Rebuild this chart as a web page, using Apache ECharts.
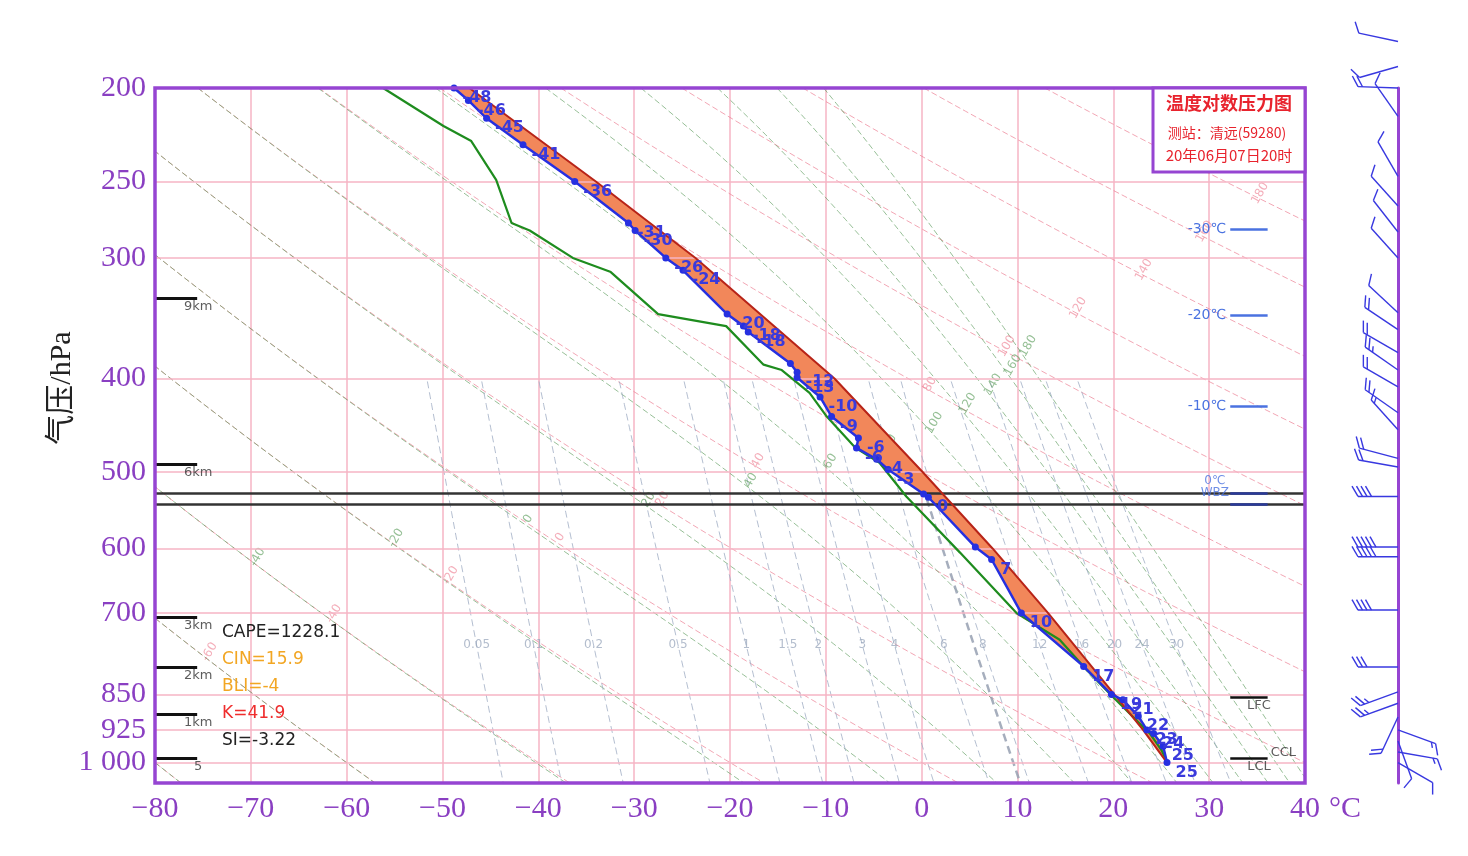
<!DOCTYPE html>
<html>
<head>
<meta charset="utf-8">
<title>温度对数压力图</title>
<script src="https://cdn.jsdelivr.net/npm/echarts@6/dist/echarts.min.js"></script>
<style>
html, body { margin: 0; padding: 0; background: #fff; }
#main { width: 1468px; height: 856px; }
</style>
</head>
<body>
<div id="main"></div>
<script>
// environment temperature (blue), hPa / degC, with the labels printed beside the dots
const tempP = [200, 206, 215, 229, 250, 276, 281, 300, 309, 343, 353, 358, 386, 394, 399, 418, 438, 461, 472, 485, 497, 527, 531, 598, 616, 700, 795, 850, 861, 895, 925, 933, 962, 1000];
const tempT = [-48.8, -47.3, -45.4, -41.6, -36.2, -30.6, -29.9, -26.7, -24.9, -20.3, -18.6, -18.1, -13.7, -13.0, -13.0, -10.6, -9.4, -6.6, -6.8, -4.7, -3.5, 0.2, 0.7, 5.6, 7.3, 10.4, 16.9, 19.8, 21.0, 22.6, 23.5, 24.2, 25.2, 25.6];
const tempLabels = ['-48', '-46', '-45', '-41', '-36', '-31', '-30', '-26', '-24', '-20', '-18', '-18', '', '-12', '-13', '-10', '-9', '-6', '-6', '-4', '-3', '', '0', '', '7', '10', '17', '19', '21', '22', '23', '24', '25', '25'];

// dew point (green)
const dewP = [200, 219, 227, 249, 276, 281, 300, 310, 343, 353, 387, 392, 414, 438, 472, 489, 530, 606, 700, 746, 795, 850, 933, 970, 988];
const dewT = [-56.2, -49.9, -47.0, -44.4, -42.8, -40.9, -36.4, -32.5, -27.5, -20.4, -16.5, -14.6, -11.7, -9.9, -6.9, -4.4, -1.6, 4.0, 9.9, 14.4, 16.9, 19.7, 23.8, 25.0, 25.4];

// lifted parcel (red)
const parcelP = [200, 250, 300, 400, 500, 600, 700, 850, 925, 1000];
const parcelT = [-47.2, -34.0, -23.6, -9.1, 0.1, 7.4, 13.2, 20.1, 23.1, 25.6];

// axes
const pressureTicks = [200, 250, 300, 400, 500, 600, 700, 850, 925, 1000];

// background isopleths: dry adiabats (theta, degC), pseudo-adiabats (theta-se, degC), mixing ratio (g/kg)
const dryTheta = [-80, -60, -40, -20, 0, 20, 40, 60, 80, 100, 120, 140, 160, 180, 200, 220];
const moistTheta = [-80, -60, -40, -20, 0, 20, 40, 60, 80, 100, 120, 140, 160, 180];
const mixRatios = [0.05, 0.1, 0.2, 0.5, 1, 1.5, 2, 3, 4, 6, 8, 12, 16, 20, 24, 30];
const boldRatio = 7.5;

// height marks on the left frame
const heightNames = ['9km', '6km', '3km', '2km', '1km', '5'];
const heightP = [330, 491, 707, 796, 891, 990];

// temperature levels marked at the right
const isoNames = ['-30℃', '-20℃', '-10℃'];
const isoP = [280, 344, 427];
const freezingP = 526;
const wbzP = 540;

// parcel levels
const levelNames = ['LFC', 'LCL'];
const levelP = [856, 990];
const cclP = 985;

// indices
const indexTexts = ['CAPE=1228.1', 'CIN=15.9', 'BLI=-4', 'K=41.9', 'SI=-3.22'];
const indexColors = ['#222', '#f2a623', '#f2a623', '#ef2d2d', '#222'];

// wind: pressure, direction (deg, from), speed (m/s)
const windP = [179, 190, 200, 214, 247, 265, 282, 300, 342, 356, 376, 392, 408, 434, 452, 484, 494, 530, 598, 612, 695, 796, 845, 868, 897, 925, 950, 975, 1000];
const windDir = [282, 254, 272, 325, 330, 318, 322, 318, 313, 304, 300, 305, 300, 305, 318, 285, 280, 270, 270, 270, 270, 270, 250, 250, 205, 110, 160, 100, 120];
const windSpd = [4, 4, 8, 4, 4, 4, 4, 4, 4, 8, 8, 10, 8, 8, 6, 8, 8, 16, 20, 20, 16, 12, 10, 10, 8, 6, 4, 6, 4];

const purple = '#8a3fc2';
const frame = '#9645d2';
const pink = '#f6b4c4';
const serif = '"Liberation Serif", "Noto Sans CJK SC", serif';

// thermodynamics for the isopleths
const K0 = 273.15;
function esat(t) { return 6.112 * Math.exp(17.67 * t / (t + 243.5)); }
function dryT(theta, p) { return (theta + K0) * Math.pow(p / 1000, 0.286) - K0; }
function thetaSE(t, p) {
  const T = t + K0;
  const e = esat(t);
  const r = 0.622 * e / (p - e);
  return T * Math.pow(1000 / p, 0.286) * Math.exp(2.5e6 * r / (1004 * T)) - K0;
}
function moistT(th, p) {
  let lo = -120, hi = 45;
  for (let i = 0; i < 50; i++) {
    const mid = (lo + hi) / 2;
    if (thetaSE(mid, p) > th) hi = mid; else lo = mid;
  }
  return (lo + hi) / 2;
}
function mixT(r, p) {
  const w = r / 1000;
  const e = w * p / (0.622 + w);
  const l = Math.log(e / 6.112);
  if (l < 0) return 272.62 * l / (22.46 - l);
  return 243.5 * l / (17.67 - l);
}

const sampleP = [];
for (let i = 0; i <= 90; i++) sampleP.push(200 * Math.pow(1050 / 200, i / 90));
const mixSampleP = sampleP.filter(p => p >= 400);

const chart = echarts.init(document.getElementById('main'));

const isoSeries = [];
dryTheta.forEach(th => {
  isoSeries.push({
    type: 'line', silent: true, showSymbol: false, symbol: 'none', z: 2,
    data: sampleP.map(p => [dryT(th, p), p]),
    lineStyle: { color: 'rgba(236,128,148,0.7)', width: 1, type: [6, 3] }
  });
});
moistTheta.forEach(th => {
  isoSeries.push({
    type: 'line', silent: true, showSymbol: false, symbol: 'none', z: 2,
    data: sampleP.map(p => [moistT(th, p), p]),
    lineStyle: { color: 'rgba(96,156,96,0.65)', width: 1, type: [6, 3] }
  });
});
mixRatios.forEach(r => {
  isoSeries.push({
    type: 'line', silent: true, showSymbol: false, symbol: 'none', z: 2,
    data: mixSampleP.map(p => [mixT(r, p), p]),
    lineStyle: { color: 'rgba(160,174,196,0.8)', width: 1, type: [7, 4] }
  });
});
isoSeries.push({
  type: 'line', silent: true, showSymbol: false, symbol: 'none', z: 2,
  data: sampleP.filter(p => p >= 500).map(p => [mixT(boldRatio, p), p]),
  lineStyle: { color: 'rgba(150,160,178,0.85)', width: 2.5, type: [8, 5] }
});

const labelScatter = (items, color) => ({
  type: 'scatter', silent: true, symbolSize: 0, z: 3,
  data: items,
  label: { show: true, position: 'inside', formatter: '{b}', color: color, fontSize: 12, fontFamily: 'DejaVu Sans' }
});

const dryLabels = dryTheta.filter(th => th >= -60 && th <= 180).map(th => {
  const p = 768 * Math.exp(-0.00456 * (th + 60));
  return { name: String(th), value: [dryT(th, p) + 1.2, p], label: { rotate: 60 } };
});
const moistLabels = moistTheta.filter(th => th >= -60).map(th => {
  const p = Math.min(720, 534 * Math.exp(-0.00229 * (th - 20)));
  return { name: String(th), value: [moistT(th, p) + 1.2, p], label: { rotate: 60 } };
});
const mixLabels = mixRatios.map(r => ({ name: String(r), value: [mixT(r, 756), 756] }));

const option = {
  animation: false,
  backgroundColor: '#fff',
  grid: [
    { left: 155, right: 163, top: 88, bottom: 73 },
    { left: 1398, right: 20, top: 88, bottom: 73 }
  ],
  xAxis: [
    {
      type: 'value', gridIndex: 0, min: -80, max: 40, interval: 10,
      name: '°C', nameLocation: 'end', nameGap: 24,
      nameTextStyle: { color: purple, fontSize: 30, fontFamily: serif, verticalAlign: 'top', padding: [11, 0, 0, 0] },
      axisLine: { show: false }, axisTick: { show: false },
      axisLabel: {
        margin: 11, color: purple, fontSize: 30, fontFamily: serif,
        formatter: v => (v < 0 ? '\u2212' + (-v) : String(v))
      },
      splitLine: { show: true, lineStyle: { color: pink, width: 1.5 } }
    },
    { type: 'value', gridIndex: 1, min: 0, max: 1, show: false }
  ],
  yAxis: [
    {
      type: 'log', gridIndex: 0, min: 200, max: 1050, inverse: true,
      axisLine: { show: false }, axisTick: { show: false }, splitLine: { show: false },
      axisLabel: {
        customValues: pressureTicks, margin: 9, color: purple, fontSize: 30, fontFamily: serif,
        formatter: v => (v === 1000 ? '1 000' : String(v))
      }
    },
    {
      type: 'log', gridIndex: 1, min: 200, max: 1050, inverse: true,
      axisLine: { show: true, lineStyle: { color: frame, width: 3 } },
      axisTick: { show: false }, axisLabel: { show: false }, splitLine: { show: false }
    }
  ],
  graphic: [
    {
      type: 'rect', shape: { x: 155, y: 88, width: 1150, height: 695 },
      style: { fill: 'none', stroke: frame, lineWidth: 3.5 }, z: 15, silent: true
    },
    {
      type: 'text', x: 62, y: 388, rotation: Math.PI / 2,
      style: { text: '气压/hPa', fill: '#222', fontSize: 30, fontFamily: serif, align: 'center', verticalAlign: 'middle' }
    },
    {
      type: 'rect', shape: { x: 1153, y: 88, width: 152, height: 84 },
      style: { fill: '#fff', stroke: frame, lineWidth: 3 }, z: 20
    },
    {
      type: 'text', x: 1229, y: 103, z: 21,
      style: { text: '温度对数压力图', fill: '#e8232d', fontSize: 18, fontWeight: 'bold', fontFamily: 'Noto Sans CJK SC', align: 'center', verticalAlign: 'middle' }
    },
    {
      type: 'text', x: 1227, y: 133, z: 21,
      style: { text: '测站：清远(59280)', fill: '#e8232d', fontSize: 14, fontFamily: 'Noto Sans CJK SC', align: 'center', verticalAlign: 'middle' }
    },
    {
      type: 'text', x: 1229, y: 155, z: 21,
      style: { text: '20年06月07日20时', fill: '#e8232d', fontSize: 15, fontFamily: 'Noto Sans CJK SC', align: 'center', verticalAlign: 'middle' }
    }
  ].concat(indexTexts.map((t, i) => ({
    type: 'text', x: 222, y: 633 + i * 26.8, z: 21,
    style: { text: t, fill: indexColors[i], fontSize: 17, fontFamily: 'DejaVu Sans', align: 'left', verticalAlign: 'middle' }
  }))),
  series: [
    // isobars
    {
      type: 'scatter', silent: true, symbolSize: 0, z: 1,
      data: pressureTicks.map(p => [-80, p]),
      markLine: {
        silent: true, symbol: ['none', 'none'], animation: false,
        label: { show: false },
        lineStyle: { color: pink, width: 1.5, type: 'solid' },
        data: pressureTicks.map(p => ({ yAxis: p }))
      }
    }
  ].concat(isoSeries).concat([
    labelScatter(dryLabels, 'rgba(236,120,140,0.75)'),
    labelScatter(moistLabels, 'rgba(80,150,80,0.75)'),
    labelScatter(mixLabels, 'rgba(150,164,186,0.9)'),
    // CAPE area between environment and parcel
    {
      type: 'custom', silent: true, z: 4, clip: true,
      data: [[tempT[0], tempP[0]]],
      renderItem: function (params, api) {
        const pts = [];
        for (let i = 0; i < tempP.length; i++) pts.push(api.coord([tempT[i], tempP[i]]));
        for (let i = parcelP.length - 1; i >= 0; i--) pts.push(api.coord([parcelT[i], parcelP[i]]));
        return { type: 'polygon', shape: { points: pts }, style: { fill: '#f2875a', stroke: 'none' } };
      }
    },
    // level lines and markers
    {
      type: 'scatter', silent: true, symbolSize: 0, z: 6,
      data: heightNames.map((n, i) => ({ name: n, value: [-75.5, heightP[i]] }))
        .concat(levelNames.map((n, i) => ({ name: n, value: [35.2, levelP[i]] }))),
      label: { show: true, position: 'bottom', distance: 2, formatter: '{b}', color: '#333', fontSize: 13, fontFamily: 'DejaVu Sans' },
      markLine: {
        silent: true, symbol: ['none', 'none'], animation: false,
        label: { show: false },
        data: heightP.map(p => [
          { coord: [-80, p], lineStyle: { color: '#111', width: 3, type: 'solid' } },
          { coord: [-75.6, p] }
        ]).concat(levelP.map(p => [
          { coord: [32.2, p], lineStyle: { color: '#111', width: 2.5, type: 'solid' } },
          { coord: [36.1, p] }
        ])).concat([
          [{ coord: [-80, freezingP], lineStyle: { color: '#333', width: 2.5, type: 'solid' } }, { coord: [40, freezingP] }],
          [{ coord: [-80, wbzP], lineStyle: { color: '#333', width: 2.5, type: 'solid' } }, { coord: [40, wbzP] }],
          [{ coord: [32.2, freezingP], lineStyle: { color: '#2a3a9a', width: 2.5, type: 'solid' } }, { coord: [36.1, freezingP] }],
          [{ coord: [32.2, wbzP], lineStyle: { color: '#2a3a9a', width: 2.5, type: 'solid' } }, { coord: [36.1, wbzP] }]
        ]).concat(isoP.map((p, i) => [
          {
            name: isoNames[i], coord: [32.2, p],
            lineStyle: { color: '#4a72e0', width: 2.5, type: 'solid' },
            label: { show: true, position: 'start', distance: 4, formatter: '{b}', color: '#4a72e0', fontSize: 14, fontFamily: 'DejaVu Sans' }
          },
          { coord: [36.1, p] }
        ]))
      }
    },
    {
      type: 'scatter', silent: true, symbolSize: 0, z: 6,
      data: [
        { name: '0℃', value: [30.6, freezingP - 15] },
        { name: 'WBZ', value: [30.6, freezingP] },
        { name: 'CCL', value: [36.1, cclP], label: { position: 'right', distance: 3, offset: [0, -4], color: '#333', fontSize: 13 } }
      ],
      label: {
        show: true, position: 'inside', formatter: '{b}', color: '#4a72e0', fontSize: 12, fontFamily: 'DejaVu Sans'
      }
    },
    // dew point
    {
      type: 'line', silent: true, symbol: 'none', z: 7,
      data: dewP.map((p, i) => [dewT[i], p]),
      lineStyle: { color: '#1e8c1e', width: 2.2 }
    },
    // parcel
    {
      type: 'line', silent: true, symbol: 'none', z: 7,
      data: parcelP.map((p, i) => [parcelT[i], p]),
      lineStyle: { color: '#b82418', width: 2 }
    },
    // environment temperature
    {
      type: 'line', silent: true, z: 8,
      symbol: 'circle', symbolSize: 7, showSymbol: true,
      itemStyle: { color: '#2630e0' },
      lineStyle: { color: '#2630e0', width: 2.5 },
      data: tempP.map((p, i) => ({
        value: [tempT[i], p],
        label: { show: tempLabels[i] !== '', formatter: tempLabels[i] }
      })),
      label: {
        position: 'right', distance: 5, offset: [0, 10],
        color: '#3a3adc', fontSize: 16, fontWeight: 'bold', fontFamily: 'DejaVu Sans'
      }
    },
    // wind barbs
    {
      type: 'custom', silent: true, xAxisIndex: 1, yAxisIndex: 1, z: 8,
      data: windP.map((p, i) => [p, windDir[i], windSpd[i]]),
      encode: { x: -1, y: 0 },
      renderItem: function (params, api) {
        const base = api.coord([0, api.value(0)]);
        const a = api.value(1) * Math.PI / 180;
        const spd = api.value(2);
        const ux = Math.sin(a), uy = -Math.cos(a);
        const len = 40;
        const tip = [base[0] + ux * len, base[1] + uy * len];
        const fa = Math.atan2(uy, ux) + Math.PI / 3;
        const fx = Math.cos(fa), fy = Math.sin(fa);
        const st = { stroke: '#3838e0', lineWidth: 1.4 };
        const kids = [{ type: 'line', shape: { x1: base[0], y1: base[1], x2: tip[0], y2: tip[1] }, style: st }];
        const full = Math.floor(spd / 4);
        const half = (spd % 4) >= 2 ? 1 : 0;
        let pos = 0;
        for (let k = 0; k < full; k++) {
          const sx = tip[0] - ux * pos, sy = tip[1] - uy * pos;
          kids.push({ type: 'line', shape: { x1: sx, y1: sy, x2: sx + fx * 12, y2: sy + fy * 12 }, style: st });
          pos += 4.5;
        }
        if (half) {
          if (full === 0) pos = 5;
          const sx = tip[0] - ux * pos, sy = tip[1] - uy * pos;
          kids.push({ type: 'line', shape: { x1: sx, y1: sy, x2: sx + fx * 6, y2: sy + fy * 6 }, style: st });
        }
        return { type: 'group', children: kids };
      }
    }
  ])
};

chart.setOption(option);
</script>
</body>
</html>
